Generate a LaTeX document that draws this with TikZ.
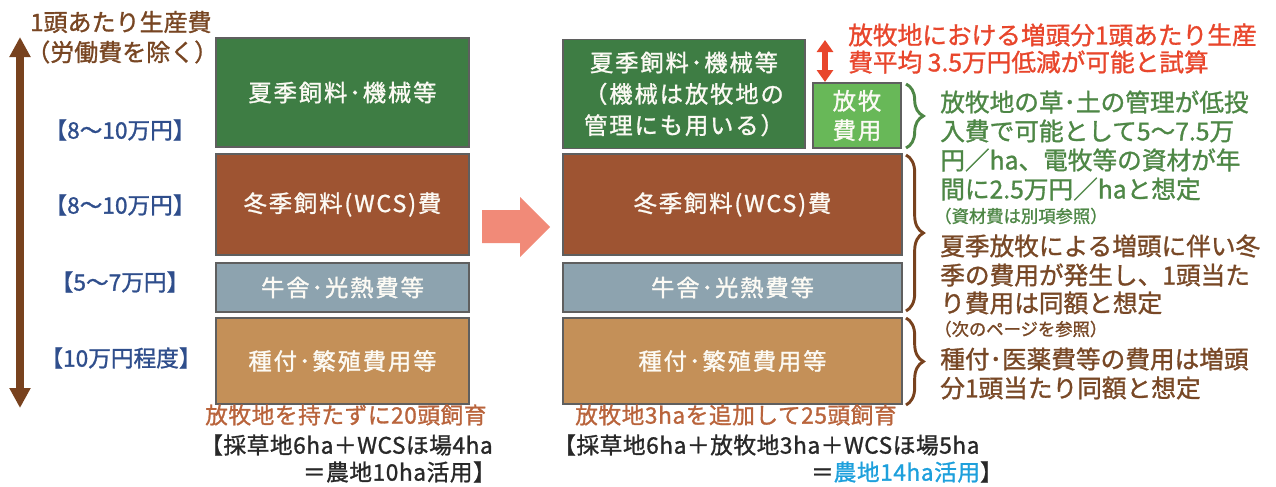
\documentclass[tikz,border=0pt]{standalone}
\usepackage{fontspec}
\setmainfont{Noto Sans CJK JP}[FakeBold=1.2]
\newfontfamily\boxfont{Noto Sans CJK JP}[FakeBold=1.2, LetterSpace=8]
\newfontfamily\capfont{Noto Sans CJK JP}[FakeBold=1.2, LetterSpace=2.5]
\usetikzlibrary{arrows.meta,decorations.pathreplacing}
\definecolor{cgreen}{RGB}{62,125,68}
\definecolor{clight}{RGB}{104,184,88}
\definecolor{cbrown}{RGB}{158,84,50}
\definecolor{cgrey}{RGB}{141,163,175}
\definecolor{ctan}{RGB}{196,144,88}
\definecolor{cborder}{RGB}{95,95,95}
\definecolor{cpink}{RGB}{241,138,120}
\definecolor{carrow}{RGB}{120,66,30}
\definecolor{cblue}{RGB}{47,78,140}
\definecolor{ctitle}{RGB}{120,70,35}
\definecolor{corange}{RGB}{185,100,60}
\definecolor{cred}{RGB}{232,70,44}
\definecolor{cgtext}{RGB}{78,135,70}
\definecolor{cbtext}{RGB}{120,72,38}
\definecolor{ccyan}{RGB}{30,160,220}
\definecolor{cblack}{RGB}{40,40,40}
\definecolor{cwhite}{RGB}{252,250,244}
\begin{document}
\begin{tikzpicture}[x=0.75pt,y=-0.75pt,
  pbox/.style={draw=cborder, line width=0.9pt, inner sep=0pt, text=cwhite, align=center,
    font=\boxfont\fontsize{17.5}{23.5}\selectfont},
  bsize/.style 2 args={minimum width=#1*0.75pt, minimum height=#2*0.75pt},
  bigtxt/.style={inner sep=0pt, anchor=west, font=\fontsize{18.5}{22}\selectfont},
  smalltxt/.style={inner sep=0pt, anchor=west, font=\fontsize{13}{15}\selectfont},
  captxt/.style={inner sep=0pt, font=\capfont\fontsize{17}{20}\selectfont},
  labtxt/.style={inner sep=0pt, text=cblue, font=\fontsize{17}{18}\selectfont},
  brc/.style={decorate, decoration={brace, amplitude=13pt, aspect=0.5}, line width=2.2pt},
]
\useasboundingbox (0,0) rectangle (1276,486);

% left title and arrow
\node[inner sep=0pt, anchor=west, text=ctitle, font=\fontsize{18}{20}\selectfont] (tt1) at (30,22) {1頭あたり生産費};
\node[inner sep=0pt, anchor=west, text=ctitle, font=\fontsize{18}{20}\selectfont] (tt2) at (26,52) {（労働費を除く）};
\coordinate (la1) at (20,37);
\coordinate (la2) at (20,408);
\draw[carrow, line width=6pt, {Triangle[width=15pt,length=15pt]}-{Triangle[width=15pt,length=15pt]}] (la1) -- (la2);

\node[labtxt] (l1) at (120,130) {【8～10万円】};
\node[labtxt] (l2) at (120,205) {【8～10万円】};
\node[labtxt] (l3) at (120,282) {【5～7万円】};
\node[labtxt] (l4) at (121,358) {【10万円程度】};

% left column
\node[pbox, fill=cgreen, bsize={253}{109}] (lg) at (342.5,92.5) {夏季飼料･機械等};
\node[pbox, fill=cbrown, bsize={253}{101}] (lb) at (342.5,204.5) {冬季飼料(WCS)費};
\node[pbox, fill=cgrey, bsize={253}{49}] (ls) at (342.5,287.5) {牛舎･光熱費等};
\node[pbox, fill=ctan, bsize={253}{86}] (lt) at (342.5,361) {種付･繁殖費用等};

% pink arrow
\fill[cpink] (482,210) -- (520,210) -- (520,197) -- (550,227) -- (520,257) -- (520,243) -- (482,243) -- cycle;

% right column
\node[pbox, fill=cgreen, bsize={242}{109}] (rg) at (684,94) {夏季飼料･機械等\\（機械は放牧地の\\管理にも用いる）};
\node[pbox, fill=clight, bsize={88}{65}, font=\boxfont\fontsize{17.5}{22}\selectfont] (rh) at (857,115.5) {放牧\\費用};
\node[pbox, fill=cbrown, bsize={339}{101}] (rb) at (732.5,204.5) {冬季飼料(WCS)費};
\node[pbox, fill=cgrey, bsize={339}{49}] (rs) at (732.5,287.5) {牛舎･光熱費等};
\node[pbox, fill=ctan, bsize={339}{86}] (rt) at (732.5,361) {種付･繁殖費用等};

% red double arrow
\coordinate (ra1) at (825,40);
\coordinate (ra2) at (825,82);
\draw[cred, line width=4.5pt, {Triangle[width=12pt,length=9pt]}-{Triangle[width=12pt,length=9pt]}] (ra1) -- (ra2);

% braces
\coordinate (b1a) at (906,84);
\coordinate (b1b) at (906,148);
\coordinate (b2a) at (906,155);
\coordinate (b2b) at (906,311);
\coordinate (b3a) at (906,318);
\coordinate (b3b) at (906,405);
\draw[brc, cgtext] (b1a) -- (b1b);
\draw[brc, carrow] (b2a) -- (b2b);
\draw[brc, carrow] (b3a) -- (b3b);

% right texts
\node[bigtxt, text=cred] (r1) at (848,35) {放牧地における増頭分1頭あたり生産};
\node[bigtxt, text=cred] (r2) at (848,62) {費平均 3.5万円低減が可能と試算};
\node[bigtxt, text=cgtext] (g1) at (940,102) {放牧地の草･土の管理が低投};
\node[bigtxt, text=cgtext] (g2) at (940,131) {入費で可能として5～7.5万};
\node[bigtxt, text=cgtext] (g3) at (940,160) {円／ha、電牧等の資材が年};
\node[bigtxt, text=cgtext] (g4) at (940,189) {間に2.5万円／haと想定};
\node[smalltxt, text=cgtext] (g5) at (934,216) {（資材費は別項参照）};
\node[bigtxt, text=cbtext] (w1) at (940,246) {夏季放牧による増頭に伴い冬};
\node[bigtxt, text=cbtext] (w2) at (940,275) {季の費用が発生し、1頭当た};
\node[bigtxt, text=cbtext] (w3) at (940,303) {り費用は同額と想定};
\node[smalltxt, text=cbtext] (w4) at (934,329) {（次のページを参照）};
\node[bigtxt, text=cbtext] (w5) at (940,359) {種付･医薬費等の費用は増頭};
\node[bigtxt, text=cbtext] (w6) at (940,388) {分1頭当たり同額と想定};

% bottom captions
\node[captxt, anchor=west, text=corange] (c1) at (205,415) {放牧地を持たずに20頭飼育};
\node[captxt, anchor=west, text=cblack] (c2) at (200,445) {【採草地6ha＋WCSほ場4ha};
\node[captxt, anchor=east, text=cblack] (c3) at (496,472) {＝農地10ha活用】};
\node[captxt, anchor=west, text=corange] (c4) at (575,415) {放牧地3haを追加して25頭飼育};
\node[captxt, anchor=west, text=cblack] (c5) at (553,445) {【採草地6ha＋放牧地3ha＋WCSほ場5ha};
\node[captxt, anchor=east, text=cblack] (c6) at (1003,472) {＝\textcolor{ccyan}{農地14ha活用}】};
\end{tikzpicture}
\end{document}
